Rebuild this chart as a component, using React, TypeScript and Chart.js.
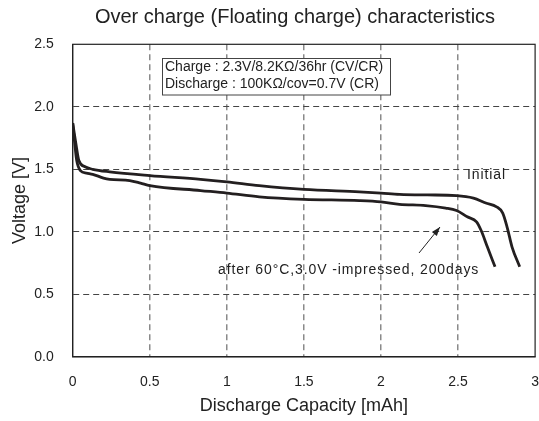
import React, { useEffect, useRef } from "react";
import { Chart, registerables } from "chart.js";

Chart.register(...registerables);

// ---- data ----
const initialCapacity = [0, 0.02, 0.04, 0.08, 0.13, 0.24, 0.5, 0.83, 1.0, 1.21, 1.5, 1.86, 2.0, 2.12, 2.3, 2.49, 2.6, 2.68, 2.75, 2.79, 2.82, 2.85, 2.9];
const initialVoltage = [1.87, 1.71, 1.57, 1.52, 1.5, 1.48, 1.45, 1.42, 1.4, 1.37, 1.34, 1.32, 1.31, 1.3, 1.295, 1.29, 1.27, 1.23, 1.2, 1.15, 1.03, 0.88, 0.72];

const agedCapacity = [0, 0.013, 0.026, 0.05, 0.09, 0.13, 0.2, 0.24, 0.37, 0.44, 0.5, 0.83, 1.0, 1.21, 1.5, 1.86, 2.0, 2.12, 2.29, 2.42, 2.49, 2.56, 2.62, 2.65, 2.69, 2.74];
const agedVoltage = [1.87, 1.71, 1.57, 1.49, 1.47, 1.46, 1.43, 1.42, 1.41, 1.39, 1.37, 1.33, 1.31, 1.28, 1.26, 1.25, 1.24, 1.22, 1.21, 1.19, 1.17, 1.12, 1.08, 1.01, 0.88, 0.72];

const xTickValues = [0, 0.5, 1, 1.5, 2, 2.5, 3];
const xTickLabels = ["0", "0.5", "1", "1.5", "2", "2.5", "3"];
const yTickValues = [0, 0.5, 1, 1.5, 2, 2.5];
const yTickLabels = ["0.0", "0.5", "1.0", "1.5", "2.0", "2.5"];

const titleText = "Over charge (Floating charge) characteristics";
const xTitle = "Discharge Capacity [mAh]";
const yTitle = "Voltage [V]";
const conditionLines = ["Charge : 2.3V/8.2KΩ/36hr (CV/CR)", "Discharge : 100KΩ/cov=0.7V (CR)"];
const initialLabel = "Initial";
const agedLabel = "after 60°C,3.0V -impressed, 200days";

const FONT = '"Liberation Sans", Arial, Helvetica, sans-serif';
const INK = "#231f20";

const overlayPlugin = {
  id: "overlay",
  afterDraw(chart: any) {
    const { ctx, chartArea: a } = chart;
    ctx.save();
    // plot frame
    ctx.strokeStyle = "#222";
    ctx.lineWidth = 1.2;
    ctx.setLineDash([]);
    ctx.strokeRect(a.left, a.top, a.right - a.left, a.bottom - a.top);

    // title
    ctx.fillStyle = "#222";
    ctx.font = `20px ${FONT}`;
    ctx.textAlign = "center";
    ctx.textBaseline = "middle";
    ctx.fillText(titleText, 295, 17);

    // condition box
    ctx.fillStyle = "#fff";
    ctx.fillRect(162.5, 58.5, 228, 36.5);
    ctx.strokeStyle = "#444";
    ctx.lineWidth = 1;
    ctx.strokeRect(162.5, 58.5, 228, 36.5);
    ctx.fillStyle = "#222";
    ctx.font = `14px ${FONT}`;
    ctx.textAlign = "left";
    ctx.fillText(conditionLines[0], 165, 67);
    ctx.fillText(conditionLines[1], 165, 84);

    // annotations
    (ctx as any).letterSpacing = "0.9px";
    ctx.font = `14px ${FONT}`;
    ctx.fillText(initialLabel, 467, 175);
    ctx.fillText(agedLabel, 218, 270);
    (ctx as any).letterSpacing = "0px";

    // arrow
    const x0 = 419, y0 = 253, x1 = 440, y1 = 227;
    ctx.strokeStyle = "#222";
    ctx.lineWidth = 1;
    ctx.beginPath();
    ctx.moveTo(x0, y0);
    ctx.lineTo(x1, y1);
    ctx.stroke();
    const ang = Math.atan2(y1 - y0, x1 - x0);
    const L = 9, W = 3.2;
    ctx.beginPath();
    ctx.moveTo(x1, y1);
    ctx.lineTo(x1 - L * Math.cos(ang) + W * Math.sin(ang), y1 - L * Math.sin(ang) - W * Math.cos(ang));
    ctx.lineTo(x1 - L * Math.cos(ang) - W * Math.sin(ang), y1 - L * Math.sin(ang) + W * Math.cos(ang));
    ctx.closePath();
    ctx.fillStyle = "#222";
    ctx.fill();
    ctx.restore();
  },
};

export default function App() {
  const ref = useRef<HTMLCanvasElement | null>(null);
  useEffect(() => {
    document.body.style.margin = "0";
    const canvas = ref.current!;
    const initialPoints = initialCapacity.map((x, i) => ({ x, y: initialVoltage[i] }));
    const agedPoints = agedCapacity.map((x, i) => ({ x, y: agedVoltage[i] }));
    const chart = new Chart(canvas, {
      type: "line",
      data: {
        datasets: [
          {
            label: "Initial",
            data: initialPoints,
            borderColor: INK,
            borderWidth: 2.8,
            pointRadius: 0,
            cubicInterpolationMode: "monotone",
            fill: false,
          },
          {
            label: "after 200days",
            data: agedPoints,
            borderColor: INK,
            borderWidth: 2.8,
            pointRadius: 0,
            cubicInterpolationMode: "monotone",
            fill: false,
          },
        ],
      },
      options: {
        animation: false,
        responsive: false,
        devicePixelRatio: 1,
        layout: { padding: { left: 5, right: 0, top: 44.3, bottom: 0 } },
        plugins: {
          legend: { display: false },
          tooltip: { enabled: false },
          title: { display: false },
        },
        scales: {
          x: {
            type: "linear",
            min: 0,
            max: 3,
            afterBuildTicks: (s: any) => {
              s.ticks = xTickValues.map((v) => ({ value: v }));
            },
            afterFit: (s: any) => {
              s.height = 64.2;
            },
            ticks: {
              font: { family: FONT, size: 14 },
              color: "#222",
              padding: 0,
              maxRotation: 0,
              autoSkip: false,
              callback: (_v: any, i: number) => xTickLabels[i],
            },
            grid: {
              drawTicks: true,
              tickLength: 17,
              tickColor: "rgba(0,0,0,0)",
              color: (c: any) => (c.tick && c.tick.value > 0 && c.tick.value < 3 ? "#8a8a8a" : "rgba(0,0,0,0)"),
              lineWidth: 1.5,
            },
            border: { display: true, color: "#222", width: 1.2, dash: [6, 4] },
            title: {
              display: true,
              text: xTitle,
              font: { family: FONT, size: 18 },
              color: "#222",
              padding: { top: 4, bottom: 4 },
            },
          },
          y: {
            type: "linear",
            min: 0,
            max: 2.5,
            afterBuildTicks: (s: any) => {
              s.ticks = yTickValues.map((v) => ({ value: v }));
            },
            afterFit: (s: any) => {
              s.width = 67.7;
            },
            ticks: {
              font: { family: FONT, size: 14 },
              color: "#222",
              padding: 19,
              callback: (_v: any, i: number) => yTickLabels[i],
            },
            grid: {
              drawTicks: false,
              color: (c: any) => (c.tick && c.tick.value > 0 && c.tick.value < 2.5 ? "#444" : "rgba(0,0,0,0)"),
              lineWidth: 1,
            },
            border: { display: true, color: "#222", width: 1.2, dash: [6, 4] },
            title: {
              display: true,
              text: yTitle,
              font: { family: FONT, size: 18 },
              color: "#222",
              padding: { top: 4, bottom: 4 },
            },
          },
        },
      },
      plugins: [overlayPlugin],
    } as any);
    return () => chart.destroy();
  }, []);
  return (
    <div style={{ width: 539, height: 421 }}>
      <canvas ref={ref} width={539} height={421} style={{ display: "block" }} />
    </div>
  );
}
